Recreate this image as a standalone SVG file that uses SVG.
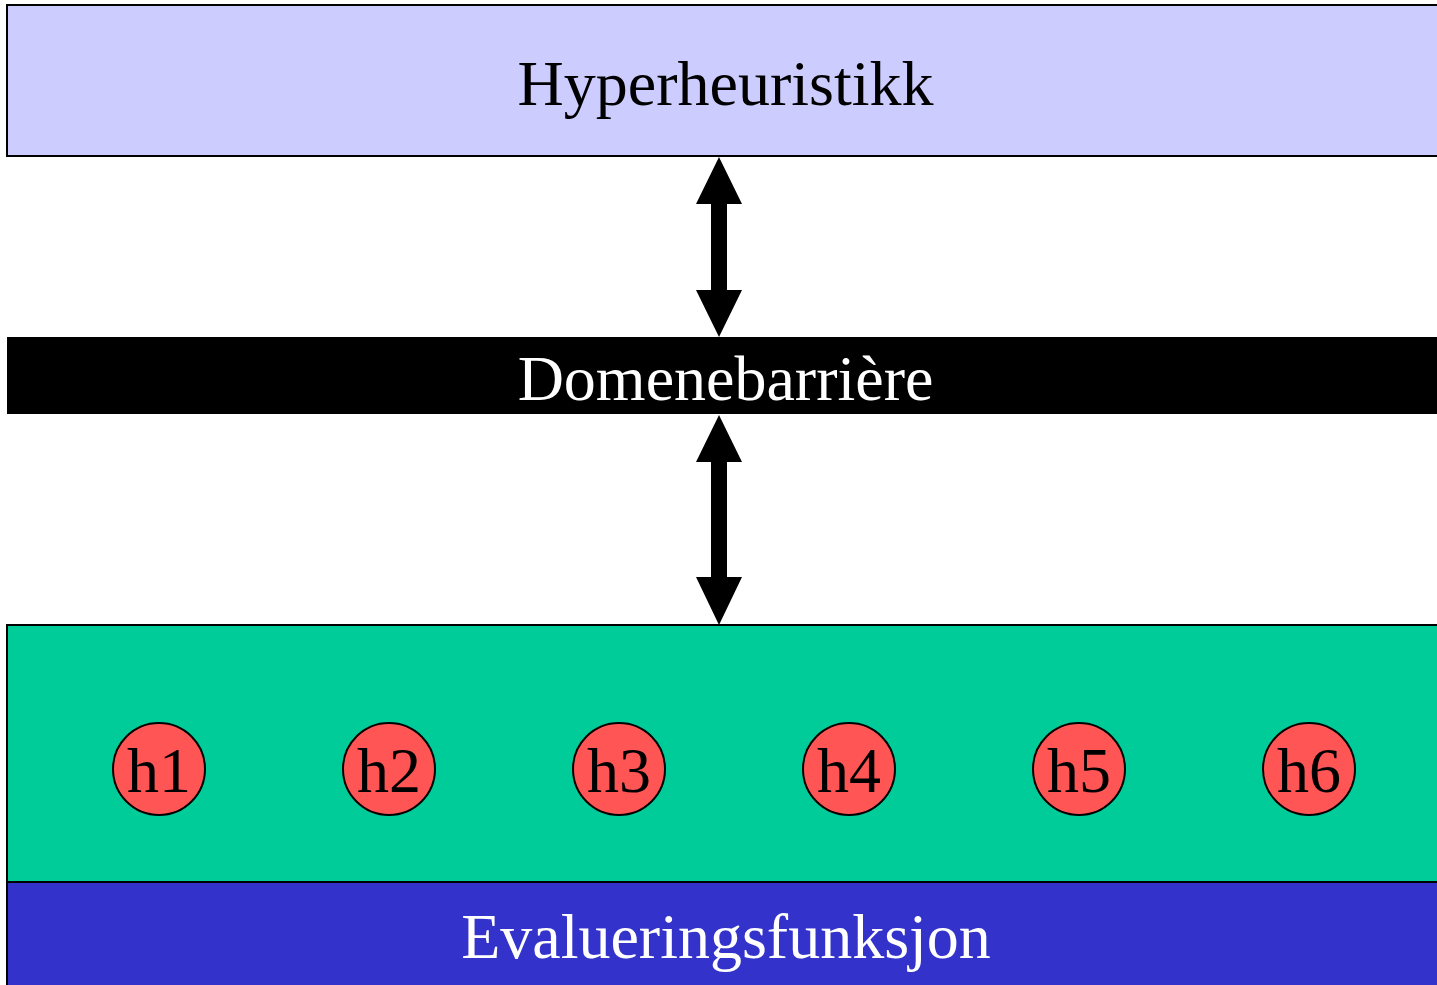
<svg xmlns="http://www.w3.org/2000/svg" width="1437" height="985" viewBox="0 0 1437 985">
<style>
text{font-family:"Liberation Serif","Times New Roman",serif;font-size:64px;text-anchor:middle}
.band{stroke:#000;stroke-width:2}
.h circle{fill:#FF5555;stroke:#000;stroke-width:2}
.arrow{fill:#000}
</style>
<rect width="1437" height="985" fill="#fff"/>
<g id="hyperheuristikk">
<rect class="band" x="7" y="5" width="1440" height="151" fill="#CCCCFF"/>
<text x="725.5" y="105" fill="#000">Hyperheuristikk</text>
</g>
<g id="domenebarriere">
<rect x="7" y="337" width="1440" height="77" fill="#000"/>
<text x="725.5" y="400" fill="#fff">Domenebarrière</text>
</g>
<g id="heuristikker">
<rect class="band" x="7" y="625" width="1440" height="257" fill="#00CC99"/>
</g>
<g id="evalueringsfunksjon">
<rect class="band" x="7" y="882" width="1440" height="110" fill="#3333CC"/>
<text x="726" y="958" fill="#fff">Evalueringsfunksjon</text>
</g>
<g id="h1" class="h"><circle cx="159" cy="769" r="46"/><text x="159" y="792">h1</text></g>
<g id="h2" class="h"><circle cx="389" cy="769" r="46"/><text x="389" y="792">h2</text></g>
<g id="h3" class="h"><circle cx="619" cy="769" r="46"/><text x="619" y="792">h3</text></g>
<g id="h4" class="h"><circle cx="849" cy="769" r="46"/><text x="849" y="792">h4</text></g>
<g id="h5" class="h"><circle cx="1079" cy="769" r="46"/><text x="1079" y="792">h5</text></g>
<g id="h6" class="h"><circle cx="1309" cy="769" r="46"/><text x="1309" y="792">h6</text></g>
<g id="connectors">
<path class="arrow" d="M719 157 L742 204 L727 204 L727 290 L742 290 L719 337 L696 290 L711 290 L711 204 L696 204 Z"/>
<path class="arrow" d="M719 415 L742 462 L727 462 L727 577 L742 577 L719 625 L696 577 L711 577 L711 462 L696 462 Z"/>
</g>
</svg>
